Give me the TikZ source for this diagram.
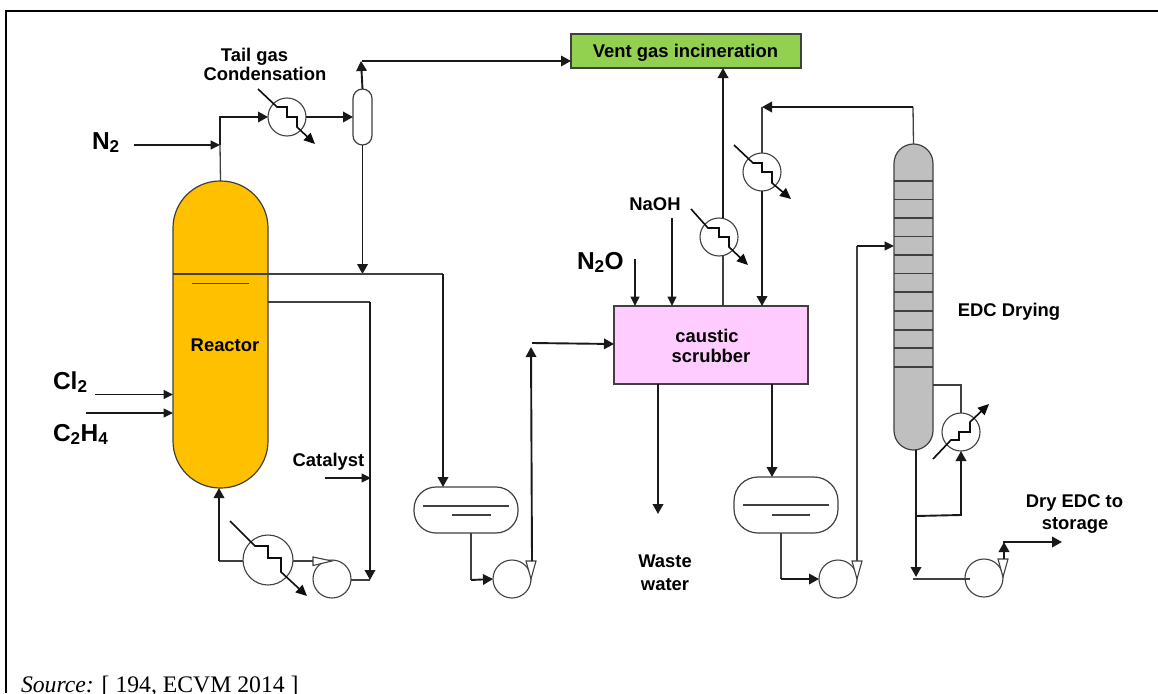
\documentclass[tikz,border=0pt]{standalone}
\usepackage{fontspec}
\setmainfont{Liberation Sans}
\newfontfamily\srcfont{Liberation Serif}
\usetikzlibrary{arrows.meta,calc}
\definecolor{linec}{gray}{0.25}
\tikzset{
  every node/.style={inner sep=0pt,outer sep=0pt},
  wire/.style={draw=linec,line width=1.3pt},
  flow/.style={draw=black!90,line width=1.9pt,-{Triangle[length=10pt,width=10.5pt]}},
  flowthin/.style={draw=black!90,line width=1.6pt,-{Triangle[length=9.5pt,width=9pt]}},
  coil/.style={draw=black!95,line width=1.6pt,line join=miter,-{Triangle[length=11pt,width=10pt]}},
  hx/.style={circle,draw=linec,line width=1.1pt,fill=white,minimum size=#1},
  hx/.default=38pt,
  pumpc/.style={circle,draw=linec,line width=1.1pt,fill=white,minimum size=38pt},
  outtri/.style={draw=linec,line width=1.1pt,fill=white},
  vessel/.style={draw=linec,line width=1.2pt,fill=white,rectangle},
  lab/.style={font=\fontsize{18.4}{20}\selectfont\bfseries,text=black,anchor=base},
  biglab/.style={font=\fontsize{24.5}{26}\selectfont\bfseries,text=black,anchor=base west},
}
\begin{document}
\begin{tikzpicture}[x=1pt,y=-1pt]
\useasboundingbox (0,0) rectangle (1158,693);
% frame
\coordinate (fa) at (1158,11);
\coordinate (fb) at (6,11);
\coordinate (fc) at (6,693);
\draw[black,line width=2.4pt] (fa) -- (fb) -- (fc);

% ---- vessels
\node[draw=linec,line width=1.2pt,fill={rgb,255:red,255;green,192;blue,0},rectangle,rounded corners=47pt,minimum width=95pt,minimum height=307pt] (reactor) at (220.5,334.5) {};
\node[vessel,fill={rgb,255:red,146;green,208;blue,80},minimum width=230pt,minimum height=34pt] (vent) at (686,51) {};
\node[vessel,rounded corners=9.5pt,minimum width=19pt,minimum height=56pt] (sep) at (362.5,117) {};
\node[vessel,fill={rgb,255:red,255;green,204;blue,255},minimum width=194pt,minimum height=78pt] (scrub) at (711,345) {};
\node[vessel,rounded corners=22pt,minimum width=104pt,minimum height=46pt] (drumA) at (466,510) {};
\node[vessel,rounded corners=24pt,minimum width=104pt,minimum height=56pt] (drumB) at (786,505) {};
\node[draw=linec,line width=1.2pt,fill={rgb,255:red,191;green,191;blue,191},rectangle,rounded corners=19.5pt,minimum width=39pt,minimum height=306pt] (col) at (913.5,297) {};
\foreach \ty in {181,199.5,218,236.5,255,273.5,292,311,330,348,367}
  \draw[draw=linec,line width=1.2pt] (col.west |- 0,\ty) -- (col.east |- 0,\ty);

% ---- heat exchangers and pumps
\node[hx] (hxA) at (287,117) {};
\node[hx=50pt] (hxB) at (268,560) {};
\node[hx] (hxC) at (719,237) {};
\node[hx] (hxD) at (762,172) {};
\node[hx] (hxE) at (961,432) {};
\node[pumpc] (pA) at (332,579) {};
\node[pumpc] (pB) at (512,579) {};
\node[pumpc] (pC) at (838,579) {};
\node[pumpc] (pD) at (984,578) {};

% ---- inner liquid levels
\coordinate (rtl) at (reactor.west |- 0,274);
\coordinate (rtr) at (reactor.east |- 0,274);
\draw[wire] (rtl) -- (rtr);
\coordinate (la1) at (192,283.5); \coordinate (la2) at (249,283.5);
\draw[wire] (la1) -- (la2);
\coordinate (da1) at (423,506); \coordinate (da2) at (509,506);
\coordinate (da3) at (452,515); \coordinate (da4) at (491,515);
\draw[wire] (da1) -- (da2); \draw[wire] (da3) -- (da4);
\coordinate (db1) at (743,505); \coordinate (db2) at (829,505);
\coordinate (db3) at (772,515); \coordinate (db4) at (810,515);
\draw[wire] (db1) -- (db2); \draw[wire] (db3) -- (db4);

% ---- pump outlets
\coordinate (tA1) at (313,557); \coordinate (tA2) at (313,565.5); \coordinate (tA3) at (332,561);
\draw[outtri] (tA1) -- (tA2) -- (tA3) -- cycle;
\coordinate (tB1) at (526,561); \coordinate (tB2) at (536,561); \coordinate (tB3) at (531,579);
\draw[outtri] (tB1) -- (tB2) -- (tB3) -- cycle;
\coordinate (tC1) at (852,561); \coordinate (tC2) at (862,561); \coordinate (tC3) at (857,579);
\draw[outtri] (tC1) -- (tC2) -- (tC3) -- cycle;
\coordinate (tD1) at (998,559); \coordinate (tD2) at (1008,559); \coordinate (tD3) at (1003,577);
\draw[outtri] (tD1) -- (tD2) -- (tD3) -- cycle;

% ---- connectors: reactor overhead
\coordinate (jN) at (220,145);
\coordinate (jOv) at (220,117);
\draw[wire] (reactor.north) -- (jN);
\draw[flow] (jN) -- (jOv) -- (hxA.west);
\coordinate (n2s) at (134,145);
\draw[flowthin] (n2s) -- (jN);
\draw[flow] (hxA.east) -- (sep.west);
\coordinate (jT) at (361,61);
\draw[flow] (sep.north) -- (jT);
\coordinate (ventIn) at (vent.west |- 0,61);
\coordinate (jTr) at (362,61);
\draw[flow] (jTr) -- (ventIn);
\coordinate (j274) at (362.5,274);
\draw[flow] (sep.south) -- (j274);
% reactor to drum A
\coordinate (j274r) at (443,274);
\coordinate (drumAin) at (443,487);
\draw[wire] (rtr) -- (j274r);
\draw[flow] (j274r) -- (drumAin);
% catalyst loop
\coordinate (r302) at (reactor.east |- 0,302);
\coordinate (j302) at (370,302);
\coordinate (j579) at (370,580);
\draw[wire] (r302) -- (j302);
\draw[flow] (j302) -- (j579);
\draw[wire] ($(pA.center)+(19,1)$) -- (j579);
\coordinate (cats) at (325,478); \coordinate (cate) at (371,478);
\draw[flowthin] (cats) -- (cate);
% recycle
\draw[wire] (hxB.east |- 0,561) -- (tA1 |- 0,561);
\coordinate (hxBl) at (243,561);
\coordinate (j219) at (219,561);
\coordinate (rbot) at (219,488);
\draw[wire] (hxBl) -- (j219);
\draw[flow] (j219) -- (rbot);
% drum A to pump B to scrubber
\coordinate (dAo) at (471,533);
\coordinate (dAj) at (471,580);
\draw[wire] (dAo) -- (dAj);
\draw[flow] (dAj) -- (pB.west);
\coordinate (tBt) at (532,561);
\coordinate (pBu) at (531,347);
\draw[flow] (tBt) -- (pBu);
\coordinate (sIn) at (532,343);
\coordinate (sInE) at (scrub.west |- 0,344);
\draw[flow] (sIn) -- (sInE);
% scrubber feeds
\coordinate (n2oS) at (635,259);
\coordinate (n2oE) at (635,306);
\draw[flowthin] (n2oS) -- (n2oE);
\coordinate (naS) at (672,218);
\coordinate (naE) at (672,306);
\draw[flowthin] (naS) -- (naE);
% scrubber gas through exchanger
\coordinate (gasS) at (723,306);
\coordinate (gasE) at (723,68);
\draw[wire,line width=1.7pt] (gasS) -- (hxC.south -| gasS);
\draw[flow] (hxC.north -| gasS) -- (gasE);
% waste water
\coordinate (wS) at (658,384);
\coordinate (wE) at (658,514);
\draw[flow] (wS) -- (wE);
% to drum B
\coordinate (dbS) at (772,384);
\coordinate (dbE) at (772,477);
\draw[flow] (dbS) -- (dbE);
\coordinate (dBo) at (781,533);
\coordinate (dBj) at (781,579);
\draw[wire] (dBo) -- (dBj);
\draw[flow] (dBj) -- (pC.west);
% feed to column
\coordinate (tCt) at (857,561);
\coordinate (colj) at (857,246);
\coordinate (colin) at (col.west |- 0,246);
\draw[wire] (tCt) -- (colj);
\draw[flowthin] (colj) -- (colin);
% column overhead through exchanger
\coordinate (ovA) at (913,107);
\coordinate (ovB) at (762,107);
\coordinate (ovC) at (762,306);
\draw[wire] (col.north) -- (ovA);
\draw[flow] (ovA) -- (ovB);
\draw[wire,line width=1.7pt] (ovB) -- (hxD.north);
\draw[flow] (hxD.south) -- (ovC);
% reboiler
\coordinate (rbA) at (col.east |- 0,385);
\coordinate (rbB) at (961,385);
\draw[wire] (rbA) -- (rbB) -- (hxE.north);
\coordinate (botS) at (916,450);
\coordinate (botE) at (916,577);
\draw[flow] (botS) -- (botE);
\coordinate (brA) at (916,516);
\coordinate (brB) at (961,515);
\draw[flow] (brA) -- (brB) -- (hxE.south);
\coordinate (pdL) at (913,579);
\coordinate (pdR) at (970,579);
\draw[wire] (pdL) -- (pdR);
\coordinate (tDt) at (1004,559);
\coordinate (dUp) at (1004,542);
\draw[flow] (tDt) -- (dUp);
\coordinate (dUpL) at (1003,542);
\coordinate (dOut) at (1062,542);
\draw[flow] (dUpL) -- (dOut);

% ---- exchanger coils
\coordinate (cA) at (258,89); \coordinate (cAe) at (315,144);
\draw[coil] (cA) -- (277,107) -- (287,107) -- (287,117) -- (297,117) -- (297,127) -- (cAe);
\coordinate (cB) at (230,521); \coordinate (cBe) at (307,596);
\draw[coil] (cB) -- (255,546) -- (268,546) -- (268,558) -- (281,558) -- (281,572) -- (cBe);
\coordinate (cC) at (691,209); \coordinate (cCe) at (748,265);
\draw[coil] (cC) -- (708,228) -- (719,228) -- (719,237) -- (729,237) -- (729,247) -- (cCe);
\coordinate (cD) at (734,145); \coordinate (cDe) at (791,199);
\draw[coil] (cD) -- (753,163) -- (762,163) -- (762,172) -- (772,172) -- (772,183) -- (cDe);
\coordinate (cE) at (933,459); \coordinate (cEe) at (989,404);
\draw[coil] (cE) -- (951,440) -- (959,440) -- (959,432) -- (970,432) -- (970,422) -- (cEe);

% ---- labels
\node[lab] (tTail) at (254.5,61.5) {Tail gas};
\node[lab] (tCond) at (265,80.5) {Condensation};
\node[biglab] (tN2) at (92,149) {N\textsubscript{2}};
\node[biglab] (tCl) at (53,389) {Cl\textsubscript{2}};
\node[biglab] (tC2) at (53,441) {C\textsubscript{2}H\textsubscript{4}};
\node[biglab] (tN2O) at (577,269) {N\textsubscript{2}O};
\node[lab] (tVent) at (685.5,57) {Vent gas incineration};
\node[lab] (tReact) at (225,351.5) {Reactor};
\node[lab] (tCat) at (328.5,466) {Catalyst};
\node[lab] (tNa) at (655,210.5) {NaOH};
\node[lab] (tCaus) at (707,342) {caustic};
\node[lab] (tScr) at (711,362) {scrubber};
\node[lab] (tW1) at (665,567.5) {Waste};
\node[lab] (tW2) at (665,590) {water};
\node[lab] (tEDC) at (1009,316) {EDC Drying};
\node[lab] (tD1) at (1074.5,507.5) {Dry EDC to};
\node[lab] (tD2) at (1075,529.5) {storage};
\node[anchor=base west,font=\fontsize{23.7}{25}\selectfont\srcfont] (tSrc) at (21,692) {\textit{Source:} [ 194, ECVM 2014 ]};
% feed arrows
\coordinate (clS) at (95,394.5); \coordinate (clE) at (reactor.west |- 0,394.5);
\draw[flowthin] (clS) -- (clE);
\coordinate (c2S) at (86,413); \coordinate (c2E) at (reactor.west |- 0,413);
\draw[flowthin] (c2S) -- (c2E);
\end{tikzpicture}
\end{document}
